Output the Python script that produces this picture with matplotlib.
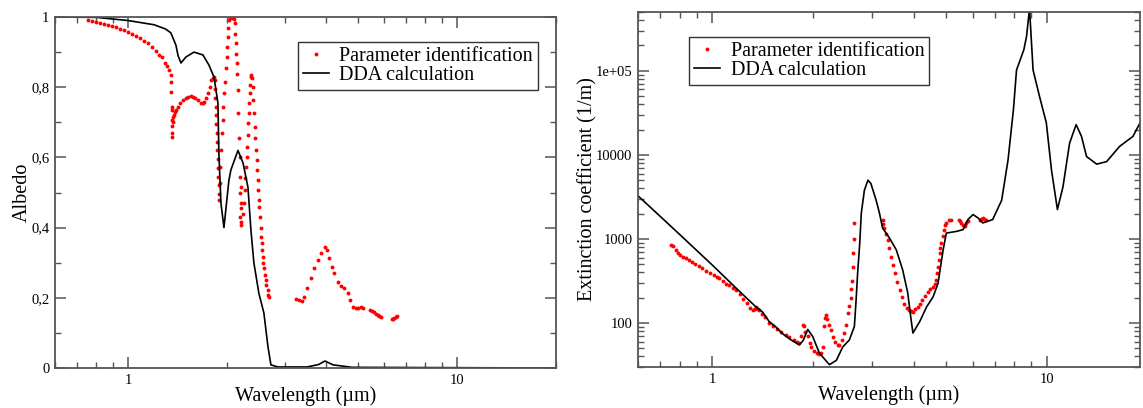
import matplotlib.pyplot as plt
import numpy as np
from matplotlib.ticker import FixedLocator, FuncFormatter, NullFormatter, MultipleLocator, LogLocator

plt.rcParams['font.family'] = ['Liberation Serif', 'DejaVu Serif']

# ---- left panel: albedo ----
alb_wl_dda = [0.6, 0.8, 1.0, 1.2, 1.3, 1.35, 1.399, 1.42, 1.449, 1.5, 1.587, 1.69, 1.763,
              1.826, 1.877, 1.89, 1.917, 1.958, 2.027, 2.055, 2.16, 2.238, 2.316, 2.365,
              2.414, 2.5, 2.589, 2.665, 2.72, 2.855, 3.5, 3.8, 3.97, 4.2, 4.8, 20.0]
alb_dda = [1.0, 0.999, 0.99, 0.978, 0.966, 0.955, 0.92, 0.89, 0.869, 0.886, 0.90, 0.892, 0.863,
           0.829, 0.755, 0.61, 0.47, 0.40, 0.535, 0.564, 0.62, 0.584, 0.515, 0.393,
           0.30, 0.213, 0.157, 0.06, 0.009, 0.003, 0.003, 0.01, 0.02, 0.009, 0.002, 0.0]

alb_wl_pi = [0.756, 0.777, 0.80, 0.822, 0.845, 0.869, 0.894, 0.919, 0.946, 0.972, 1.0, 1.028,
             1.057, 1.088, 1.118, 1.15, 1.183, 1.216, 1.242, 1.268, 1.295, 1.314, 1.332, 1.351,
             1.353, 1.355, 1.357, 1.359, 1.361, 1.362, 1.364, 1.365,
             1.37, 1.375, 1.38, 1.39, 1.40, 1.418, 1.44, 1.47, 1.50, 1.52, 1.55, 1.576, 1.60,
             1.632, 1.667, 1.685, 1.70, 1.725, 1.75, 1.77, 1.788, 1.81, 1.826,
             1.833, 1.839, 1.843, 1.848, 1.852, 1.856, 1.86, 1.865, 1.87, 1.874, 1.878, 1.883,
             1.887, 1.891, 1.893,
             1.90, 1.905, 1.917, 1.926, 1.94, 1.95, 1.96, 1.973, 1.987, 1.995, 2.003, 2.01,
             2.02, 2.03, 2.045, 2.06, 2.075, 2.09, 2.10,
             2.113, 2.12, 2.128, 2.135, 2.142, 2.15, 2.155, 2.165, 2.17, 2.186, 2.195, 2.20,
             2.198, 2.205, 2.203, 2.198, 2.205, 2.212,
             2.238, 2.253, 2.268, 2.276, 2.283, 2.294, 2.304, 2.31, 2.32, 2.326, 2.336, 2.348,
             2.353, 2.365, 2.37,
             2.38, 2.392, 2.402, 2.419, 2.43, 2.436, 2.449, 2.461, 2.466, 2.478, 2.489, 2.495,
             2.507, 2.524, 2.53, 2.535, 2.548, 2.553, 2.566, 2.577, 2.594, 2.607, 2.625, 2.637,
             2.656, 2.674, 2.685,
             3.24, 3.31, 3.39, 3.44, 3.51, 3.6, 3.68, 3.77, 3.86, 3.96, 4.02, 4.09, 4.16, 4.24,
             4.34, 4.44, 4.54, 4.65, 4.73, 4.82, 4.94, 5.02, 5.11, 5.17,
             5.45, 5.52, 5.6, 5.67, 5.74, 5.81, 5.88,
             6.34, 6.39, 6.43, 6.51, 6.59]
alb_pi = [0.991, 0.989, 0.987, 0.984, 0.981, 0.977, 0.974, 0.971, 0.967, 0.962, 0.957, 0.952,
          0.946, 0.939, 0.933, 0.925, 0.914, 0.902, 0.893, 0.886, 0.87, 0.86, 0.848, 0.835,
          0.815, 0.786, 0.744, 0.735, 0.707, 0.69, 0.67, 0.658,
          0.70, 0.715, 0.72, 0.728, 0.735, 0.744, 0.755, 0.764, 0.77, 0.772, 0.775, 0.772, 0.768,
          0.764, 0.755, 0.756, 0.758, 0.77, 0.783, 0.80, 0.82, 0.826, 0.829,
          0.82, 0.795, 0.77, 0.745, 0.72, 0.695, 0.67, 0.645, 0.62, 0.595, 0.57, 0.545,
          0.52, 0.495, 0.48,
          0.527, 0.573, 0.621, 0.67, 0.707, 0.744, 0.783, 0.815, 0.855, 0.886, 0.915, 0.943,
          0.969, 0.991, 0.998, 1.0, 1.0, 0.998, 0.993,
          0.982, 0.953, 0.925, 0.896, 0.868, 0.839, 0.792, 0.726, 0.655, 0.601, 0.544, 0.516,
          0.50, 0.47, 0.456, 0.43, 0.416, 0.407,
          0.44, 0.47, 0.507, 0.541, 0.573, 0.60, 0.63, 0.664, 0.698, 0.726, 0.755, 0.783,
          0.806, 0.829, 0.835,
          0.826, 0.80, 0.764, 0.726, 0.687, 0.655, 0.621, 0.593, 0.564, 0.536, 0.507, 0.479,
          0.459, 0.43, 0.399, 0.373, 0.356, 0.336, 0.316, 0.299, 0.285, 0.265, 0.25, 0.236,
          0.222, 0.208, 0.202,
          0.196, 0.194, 0.192, 0.203, 0.228, 0.256, 0.285, 0.308, 0.328, 0.346, 0.336, 0.313,
          0.289, 0.27, 0.246, 0.234, 0.228, 0.214, 0.194, 0.175, 0.171, 0.172, 0.174, 0.172,
          0.165, 0.162, 0.159, 0.155, 0.151, 0.148, 0.146,
          0.14, 0.141, 0.143, 0.146, 0.148]

# ---- right panel: extinction coefficient (1/m) ----
ext_wl_dda = [0.596, 0.8, 1.0, 1.2, 1.352, 1.415, 1.48, 1.55, 1.62, 1.72, 1.82, 1.87, 1.93,
              1.997, 2.09, 2.17, 2.24, 2.35, 2.456, 2.57, 2.66, 2.69, 2.72, 2.76, 2.79, 2.85,
              2.92, 2.98, 3.09, 3.16, 3.23, 3.39, 3.55, 3.71, 3.84, 3.93, 3.98, 4.17, 4.37,
              4.57, 4.73, 4.90, 5.01, 5.37, 5.62, 5.81, 6.02, 6.23, 6.44, 6.89, 7.33, 7.66,
              7.95, 8.12, 8.54, 8.7, 8.88, 9.1, 9.52, 9.97, 10.33, 10.76, 11.18, 11.7, 12.24,
              12.7, 13.15, 14.1, 15.1, 16.5, 18.1, 19.0]
ext_dda = [3340, 1127, 490, 243, 155, 135, 104, 90, 75, 63, 55, 62, 84,
           69, 44, 37, 32, 36, 52, 63, 91, 180, 390, 890, 2040, 3800,
           5000, 4570, 2880, 2040, 1350, 1020, 741, 427, 229, 110, 76, 104, 155,
           204, 295, 741, 1175, 1230, 1290, 1700, 1950, 1780, 1550, 1700, 2880, 8710,
           34700, 102000, 178000, 257000, 550000, 102000, 49000, 24000, 6600, 2240, 4170,
           13800, 22900, 16600, 9550, 7760, 8320, 12600, 16600, 24000]

ext_wl_pi = [0.752, 0.765, 0.779, 0.79, 0.80, 0.82, 0.834, 0.85, 0.87, 0.89, 0.91, 0.935, 0.96,
             0.985, 1.01, 1.03, 1.049, 1.075, 1.10, 1.125, 1.15, 1.178, 1.21, 1.24, 1.27, 1.30,
             1.32, 1.34, 1.352, 1.37, 1.383, 1.41, 1.44, 1.48, 1.52, 1.56, 1.60, 1.66, 1.70,
             1.75, 1.79, 1.82, 1.84, 1.864, 1.88, 1.90, 1.93, 1.96, 1.98, 2.02, 2.06, 2.09,
             2.115, 2.14, 2.16, 2.175, 2.19, 2.21, 2.24, 2.27, 2.30, 2.33, 2.37, 2.40, 2.44,
             2.48, 2.51, 2.54, 2.57, 2.59, 2.605, 2.62, 2.63, 2.64, 2.65, 2.66,
             3.23, 3.25, 3.27, 3.31, 3.35, 3.38, 3.42, 3.46, 3.51, 3.57, 3.63, 3.69, 3.75, 3.82,
             3.88, 3.93, 3.97, 4.04, 4.11, 4.18, 4.25, 4.33, 4.41, 4.49, 4.57, 4.63, 4.68, 4.71,
             4.73, 4.76, 4.78, 4.81, 4.84, 4.88, 4.92, 4.96, 5.0, 5.09, 5.18,
             5.46, 5.51, 5.55, 5.62, 5.68, 5.74, 5.81,
             6.3, 6.37, 6.44, 6.51, 6.58]
ext_pi = [851, 830, 741, 676, 646, 617, 589, 562, 525, 501, 479, 447, 417,
          389, 372, 355, 339, 316, 295, 282, 263, 245, 219, 195, 174, 151,
          143, 148, 155, 148, 143, 129, 117, 100, 93, 85, 78, 72, 68,
          63, 59, 58, 71, 95, 91, 79, 71, 58, 52, 46, 44, 43,
          44, 52, 91, 115, 124, 112, 95, 83, 69, 59, 55, 55, 63,
          76, 95, 132, 158, 200, 251, 316, 468, 676, 1000, 1550,
          1700, 1510, 1350, 1150, 977, 776, 617, 490, 389, 309, 245, 204, 170, 151,
          143, 138, 136, 145, 155, 170, 186, 209, 234, 257, 269, 295, 324, 389,
          468, 562, 676, 776, 891, 1070, 1290, 1450, 1550, 1660, 1700,
          1700, 1620, 1550, 1450, 1410, 1550, 1620,
          1700, 1750, 1780, 1750, 1700]

spine_col = '#555555'
fig = plt.figure(figsize=(11.43, 4.08), dpi=100)
ax1 = fig.add_axes([0.0481, 0.098, 0.4383, 0.8603])
ax2 = fig.add_axes([0.5582, 0.1005, 0.4392, 0.870])


def style(ax):
    for s in ax.spines.values():
        s.set_color(spine_col)
        s.set_linewidth(1.3)
    ax.tick_params(which='both', direction='in', top=True, right=True,
                   color=spine_col, labelsize=10.5, pad=4)
    ax.tick_params(which='major', length=8, width=1.1)
    ax.tick_params(which='minor', length=4, width=1.0)
    ax.set_xscale('log')
    ax.xaxis.set_major_locator(FixedLocator([1, 10]))
    ax.xaxis.set_major_formatter(FuncFormatter(lambda v, p: '%d' % round(v)))
    ax.xaxis.set_minor_locator(LogLocator(subs=np.arange(2, 10)))
    ax.xaxis.set_minor_formatter(NullFormatter())


# left
style(ax1)
ax1.plot(alb_wl_pi, alb_pi, 'o', ms=2.8, color='red', mec='none', label='Parameter identification')
ax1.plot(alb_wl_dda, alb_dda, '-', color='black', lw=1.2, label='DDA calculation')
ax1.set_xlim(0.6, 20)
ax1.set_ylim(0, 1)
ax1.yaxis.set_major_locator(MultipleLocator(0.2))
ax1.yaxis.set_minor_locator(MultipleLocator(0.1))
ax1.yaxis.set_major_formatter(FuncFormatter(
    lambda v, p: '%d' % round(v) if abs(v - round(v)) < 1e-6 else ('%.1f' % v).replace('.', ',')))
ax1.set_xlabel('Wavelength (µm)', fontsize=14.5, labelpad=0)
ax1.set_ylabel('Albedo', fontsize=14.5, labelpad=0)
leg1 = ax1.legend(loc='upper right', bbox_to_anchor=(0.964, 0.929), fontsize=14.5,
                  fancybox=False, edgecolor='#333333', framealpha=1, borderaxespad=0,
                  borderpad=0.25, labelspacing=0.0, handlelength=1.3, handletextpad=0.5,
                  markerscale=1.0)
leg1.get_frame().set_linewidth(1.0)

# right
style(ax2)
ax2.set_yscale('log')
ax2.plot(ext_wl_pi, ext_pi, 'o', ms=2.8, color='red', mec='none', label='Parameter identification')
ax2.plot(ext_wl_dda, ext_dda, '-', color='black', lw=1.2, label='DDA calculation')
ax2.set_xlim(0.6, 19)
ax2.set_ylim(30, 5e5)
ax2.yaxis.set_major_locator(FixedLocator([100, 1000, 10000, 100000]))
ax2.yaxis.set_major_formatter(FuncFormatter(
    lambda v, p: '1e+05' if v >= 1e5 else '%d' % round(v)))
ax2.yaxis.set_minor_locator(LogLocator(subs=np.arange(2, 10)))
ax2.yaxis.set_minor_formatter(NullFormatter())
ax2.set_xlabel('Wavelength (µm)', fontsize=14.5, labelpad=0)
ax2.set_ylabel('Extinction coefficient (1/m)', fontsize=14.5, labelpad=-1)
leg2 = ax2.legend(loc='upper left', bbox_to_anchor=(0.102, 0.93), fontsize=14.5,
                  fancybox=False, edgecolor='#333333', framealpha=1, borderaxespad=0,
                  borderpad=0.25, labelspacing=0.0, handlelength=1.3, handletextpad=0.5)
leg2.get_frame().set_linewidth(1.0)

fig.savefig('out.png', dpi=100)
